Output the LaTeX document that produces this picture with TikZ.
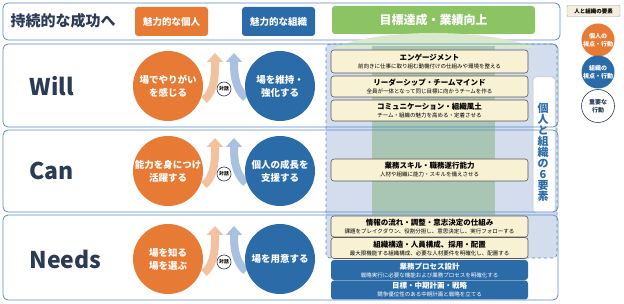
\documentclass[tikz,border=0pt]{standalone}
\usepackage{fontspec}
\setmainfont{Noto Sans CJK JP}
\usetikzlibrary{positioning,arrows.meta}
\definecolor{ink}{HTML}{2B3A55}
\definecolor{meorange}{HTML}{E77B35}
\definecolor{orgblue}{HTML}{2B6CA8}
\definecolor{goalgreen}{HTML}{8CC363}
\definecolor{rowline}{HTML}{5B8CC8}
\definecolor{cream}{HTML}{F8F1D4}
\definecolor{creamline}{HTML}{5A5A5A}
\definecolor{lavender}{HTML}{D3DDEE}
\definecolor{colgreen}{HTML}{A9C6B5}
\definecolor{fangreen}{HTML}{D8EACB}
\definecolor{arrorange}{HTML}{F4C19E}
\definecolor{arrblue}{HTML}{AAC0E0}
\definecolor{legendbg}{HTML}{F3EEDD}

\begin{document}
\begin{tikzpicture}[x=1pt, y=-1pt,
  rowbox/.style={draw=rowline, line width=0.8pt, rounded corners=5pt},
  tag/.style={rounded corners=3pt, text=white, font=\bfseries\fontsize{9.5}{11}\selectfont, minimum height=29pt, minimum width=73pt, inner sep=0pt},
  me/.style={circle, fill=meorange, minimum size=70pt, inner sep=0pt, text=white, align=center, font=\bfseries\fontsize{9.5}{13}\selectfont},
  org/.style={me, fill=orgblue},
  talk/.style={circle, draw=ink, fill=white, line width=0.6pt, minimum size=14pt, inner sep=0pt, font=\bfseries\fontsize{4.8}{5}\selectfont},
  legend/.style={circle, minimum size=33pt, inner sep=0pt, align=center, font=\bfseries\fontsize{6}{8}\selectfont},
  elem/.style={draw=creamline, fill=cream, line width=0.6pt, rounded corners=3pt, minimum width=197pt, minimum height=21pt, inner sep=0pt, align=center, font=\fontsize{5.5}{8}\selectfont},
  plan/.style={elem, draw=none, fill=orgblue, text=white, minimum height=19pt},
  flow/.style={line width=8pt}
]
\useasboundingbox (0,0) rectangle (624,304);

% Header bar
\draw[rowbox, fill=white] (3,3) rectangle (560,40);
\node[font=\bfseries\fontsize{15}{15}\selectfont, color=ink, anchor=west] (title) at (7,21) {持続的な成功へ};
\node[tag, fill=meorange] (metag) at (171.5,21.5) {魅力的な個人};
\node[tag, fill=orgblue] (orgtag) at (278.5,21.5) {魅力的な組織};
\node[tag, fill=goalgreen, minimum width=203pt, minimum height=28pt, font=\bfseries\fontsize{12}{12}\selectfont] (goal) at (433.5,20) {目標達成・業績向上};

% Legend
\node[draw=creamline!60, fill=legendbg, rounded corners=1pt, minimum width=53pt, minimum height=11pt, inner sep=0pt, font=\bfseries\fontsize{5.5}{6}\selectfont] (legtitle) at (593.5,11) {人と組織の要素};
\node[legend, fill=meorange, text=white] (legme) at (598,40) {個人の\\視点・行動};
\node[legend, fill=orgblue, text=white] (legorg) at (598,72) {組織の\\視点・行動};
\node[legend, draw=ink, line width=0.6pt, fill=white, text=ink] (legkey) at (598,106) {重要な\\行動};

% Rows
\foreach \y/\h in {44/127,130/212,215/300} {
  \fill[white, rounded corners=5pt] (3,\y) rectangle (558,\h);
}

% Six elements area
\draw[rowline, line width=0.7pt, dashed, rounded corners=4pt, fill=lavender] (326,44) rectangle (557,258);
\fill[fangreen] (333,48) .. controls (380,28) and (485,28) .. (537,48) -- cycle;
\fill[colgreen] (372,46) rectangle (495,215);
\draw[draw=lavender!70!gray, fill=white, rounded corners=3pt, line width=0.5pt] (533,77) rectangle (555,213);
\node[color=orgblue, align=center, font=\bfseries\fontsize{11}{11}\selectfont] (six) at (543,152.5) {個\\人\\と\\組\\織\\の\\6\\要\\素};

\foreach \y/\h in {44/127,130/212,215/300} {
  \draw[rowbox] (3,\y) rectangle (558,\h);
}

% Element boxes
\node[elem, minimum height=23pt] (eng) at (429.5,61.5) {{\bfseries\fontsize{7.5}{8}\selectfont エンゲージメント}\\前向きに仕事に取り組む動機付けの仕組みや環境を整える};
\node[elem] (lead) at (429.5,86.5) {{\bfseries\fontsize{7.5}{8}\selectfont リーダーシップ・チームマインド}\\全員が一体となって同じ目標に向かうチームを作る};
\node[elem] (comm) at (429.5,110.5) {{\bfseries\fontsize{7.5}{8}\selectfont コミュニケーション・組織風土}\\チーム・組織の魅力を高める・定着させる};
\node[elem, minimum height=22pt] (skill) at (429.5,170) {{\bfseries\fontsize{7.5}{8}\selectfont 業務スキル・職務遂行能力}\\人材や組織に能力・スキルを備えさせる};
\node[elem] (info) at (429.5,226.5) {{\bfseries\fontsize{7.5}{8}\selectfont 情報の流れ・調整・意志決定の仕組み}\\課題をブレイクダウン、役割分担し、意思決定し、実行フォローする};
\node[elem] (struct) at (429.5,248) {{\bfseries\fontsize{7.5}{8}\selectfont 組織構造・人員構成、採用・配置}\\最大限機能する組織構成、必要な人材要件を明確化し、配置する};
\node[plan, minimum height=20pt] (proc) at (429.5,270) {{\bfseries\fontsize{7.5}{8}\selectfont 業務プロセス設計}\\戦略実行に必要な機能および業務プロセスを明確化する};
\node[plan] (plan) at (429.5,290) {{\bfseries\fontsize{7.5}{8}\selectfont 目標・中期計画・戦略}\\競争優位性のある中期計画と戦略を立てる};

% Will / Can / Needs
\foreach \row/\cy/\lbl/\metext/\orgtext in {
  will/86/Will/{場でやりがい\\を感じる}/{場を維持・\\強化する},
  can/171/Can/{能力を身につけ\\活躍する}/{個人の成長を\\支援する},
  needs/259/Needs/{場を知る\\場を選ぶ}/{場を用意する}} {
  \node[font=\bfseries\fontsize{23}{23}\selectfont, color=ink, anchor=west] (\row-label) at (26,\cy) {\lbl};
  \coordinate (\row-o1) at (204,\cy+14);
  \coordinate (\row-o2) at (215,\cy-33);
  \coordinate (\row-b1) at (246,\cy+12);
  \coordinate (\row-b2) at (234,\cy-33);
  \draw[flow, arrorange, -{Triangle[length=9pt,width=16pt]}] (\row-o1) .. controls +(12,-10) and +(0,18) .. (\row-o2);
  \draw[flow, arrblue, -{Triangle[length=9pt,width=16pt]}] (\row-b1) .. controls +(-12,-10) and +(0,18) .. (\row-b2);
  \node[me] (\row-me) at (168,\cy) {\metext};
  \node[org] (\row-org) at (280,\cy) {\orgtext};
  \node[talk] (\row-talk) at (224,\cy+3) {対話};
}

\end{tikzpicture}
\end{document}
